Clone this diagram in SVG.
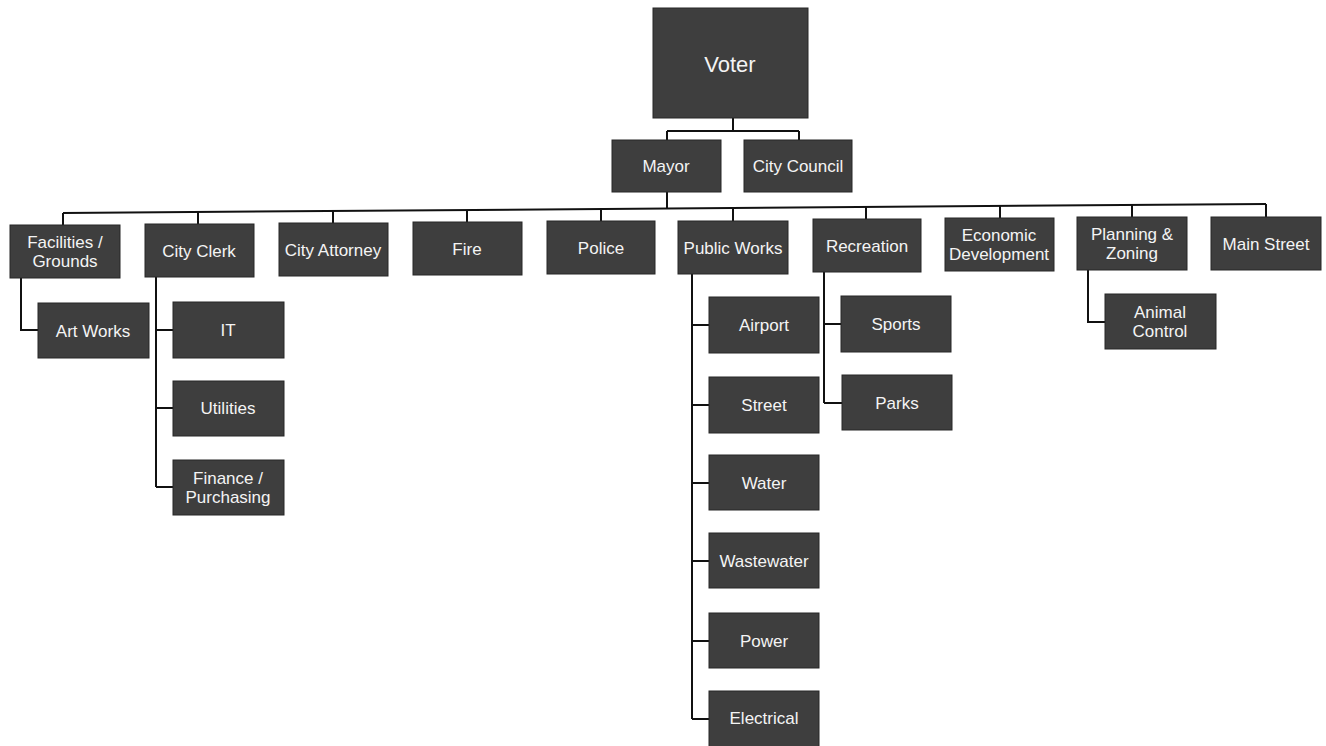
<svg xmlns="http://www.w3.org/2000/svg" width="1326" height="746" viewBox="0 0 1326 746">
<style>
.box{fill:#3e3e3e;stroke:#262626;stroke-width:1}
.sh{fill:#c8c8c8}
.t{font-family:"Liberation Sans",Arial,sans-serif;font-size:17px;fill:#f4f4f4;text-anchor:middle;dominant-baseline:central}
.big{font-size:22px}
.ln{fill:none;stroke:#111;stroke-width:2}
</style>
<rect width="1326" height="746" fill="#ffffff"/>
<g id="connectors">
<path class="ln" d="M733 118 V131 M667 131 H799 M667 131 V140 M799 131 V140"/>
<path class="ln" d="M667 192 V209"/>
<path class="ln" d="M63 213 L1266 204"/>
<path class="ln" d="M63 213 V225 M198 212 V224 M333 211 V223 M467 210 V222 M601 209 V221 M733 208 V221 M866 207 V219 M1000 206 V218 M1132 205 V217 M1266 204 V217"/>
<path class="ln" d="M21 278 V330 H38"/>
<path class="ln" d="M156 277 V487 M156 330 H173 M156 408 H173 M156 487 H173"/>
<path class="ln" d="M692 274 V719 M692 325 H709 M692 405 H709 M692 483 H709 M692 561 H709 M692 641 H709 M692 719 H709"/>
<path class="ln" d="M824 272 V403 M824 324 H841 M824 403 H842"/>
<path class="ln" d="M1088 270 V322 H1105"/>
</g>
<g id="voter"><rect class="box" x="653" y="8" width="155" height="110"/><text class="t big" x="730" y="64">Voter</text></g>
<g id="mayor"><rect class="box" x="612" y="140" width="109" height="52"/><text class="t" x="666" y="166">Mayor</text></g>
<g id="council"><rect class="box" x="744" y="140" width="108" height="52"/><text class="t" x="798" y="166">City Council</text></g>
<g id="facilities"><rect class="box" x="10" y="225" width="110" height="53"/><text class="t" x="65" y="242">Facilities /</text><text class="t" x="65" y="261">Grounds</text></g>
<g id="clerk"><rect class="box" x="145" y="224" width="109" height="53"/><text class="t" x="199" y="251">City Clerk</text></g>
<g id="attorney"><rect class="box" x="279" y="223" width="109" height="53"/><text class="t" x="333" y="250">City Attorney</text></g>
<g id="fire"><rect class="box" x="413" y="222" width="109" height="53"/><text class="t" x="467" y="249">Fire</text></g>
<g id="police"><rect class="box" x="547" y="221" width="108" height="53"/><text class="t" x="601" y="248">Police</text></g>
<g id="publicworks"><rect class="box" x="678" y="221" width="110" height="53"/><text class="t" x="733" y="248">Public Works</text></g>
<g id="recreation"><rect class="box" x="813" y="219" width="108" height="53"/><text class="t" x="867" y="246">Recreation</text></g>
<g id="economic"><rect class="box" x="945" y="218" width="109" height="53"/><text class="t" x="999" y="235">Economic</text><text class="t" x="999" y="254">Development</text></g>
<g id="planning"><rect class="box" x="1077" y="217" width="110" height="53"/><text class="t" x="1132" y="234">Planning &amp;</text><text class="t" x="1132" y="253">Zoning</text></g>
<g id="mainstreet"><rect class="box" x="1211" y="217" width="110" height="53"/><text class="t" x="1266" y="244">Main Street</text></g>
<g id="artworks"><rect class="box" x="38" y="303" width="111" height="55"/><text class="t" x="93" y="331">Art Works</text></g>
<g id="it"><rect class="box" x="173" y="302" width="111" height="56"/><text class="t" x="228" y="330">IT</text></g>
<g id="utilities"><rect class="box" x="173" y="381" width="111" height="55"/><text class="t" x="228" y="408">Utilities</text></g>
<g id="finance"><rect class="box" x="173" y="460" width="111" height="55"/><text class="t" x="228" y="478">Finance /</text><text class="t" x="228" y="497">Purchasing</text></g>
<g id="airport"><rect class="box" x="709" y="297" width="110" height="56"/><text class="t" x="764" y="325">Airport</text></g>
<g id="street"><rect class="box" x="709" y="377" width="110" height="56"/><text class="t" x="764" y="405">Street</text></g>
<g id="water"><rect class="box" x="709" y="455" width="110" height="55"/><text class="t" x="764" y="483">Water</text></g>
<g id="wastewater"><rect class="box" x="709" y="533" width="110" height="55"/><text class="t" x="764" y="561">Wastewater</text></g>
<g id="power"><rect class="box" x="709" y="613" width="110" height="55"/><text class="t" x="764" y="641">Power</text></g>
<g id="electrical"><rect class="box" x="709" y="691" width="110" height="56"/><text class="t" x="764" y="718">Electrical</text></g>
<g id="sports"><rect class="box" x="841" y="296" width="110" height="56"/><text class="t" x="896" y="324">Sports</text></g>
<g id="parks"><rect class="box" x="842" y="375" width="110" height="55"/><text class="t" x="897" y="403">Parks</text></g>
<g id="animal"><rect class="box" x="1105" y="294" width="111" height="55"/><text class="t" x="1160" y="312">Animal</text><text class="t" x="1160" y="331">Control</text></g>
</svg>
